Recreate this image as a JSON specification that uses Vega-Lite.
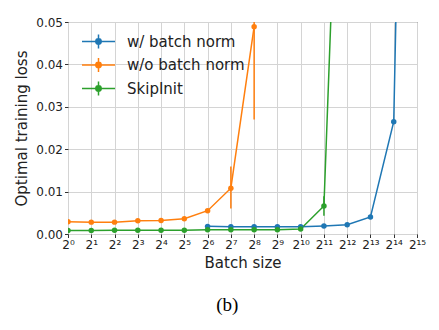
{
  "$schema": "https://vega.github.io/schema/vega-lite/v6.json",
  "autosize": "none",
  "width": 349,
  "height": 212,
  "padding": {"left": 68, "top": 22, "right": 22, "bottom": 96},
  "title": {"text": "(b)", "orient": "bottom", "anchor": "middle", "frame": "bounds", "font": "Liberation Serif", "fontSize": 19, "fontWeight": "normal", "color": "#000", "offset": 25, "dx": 7},
  "config": {
    "font": "DejaVu Sans",
    "view": {"stroke": "#333", "strokeWidth": 1},
    "axis": {"domain": false, "grid": true, "gridColor": "#d4d4d4", "gridWidth": 1, "tickColor": "#333", "tickSize": 3.5, "labelColor": "#222", "labelFontSize": 12, "titleFontSize": 15, "titleFontWeight": "normal", "titleColor": "#222", "labelPadding": 2}
  },
  "data": {"values": [
    {"series": "w/ batch norm", "bs": 64, "loss": 0.0018},
    {"series": "w/ batch norm", "bs": 128, "loss": 0.0017},
    {"series": "w/ batch norm", "bs": 256, "loss": 0.0017},
    {"series": "w/ batch norm", "bs": 512, "loss": 0.0017},
    {"series": "w/ batch norm", "bs": 1024, "loss": 0.0017},
    {"series": "w/ batch norm", "bs": 2048, "loss": 0.0019},
    {"series": "w/ batch norm", "bs": 4096, "loss": 0.0022},
    {"series": "w/ batch norm", "bs": 8192, "loss": 0.0040},
    {"series": "w/ batch norm", "bs": 16384, "loss": 0.0265},
    {"series": "w/ batch norm", "bs": 32768, "loss": 0.29},
    {"series": "w/o batch norm", "bs": 1, "loss": 0.0029},
    {"series": "w/o batch norm", "bs": 2, "loss": 0.0028},
    {"series": "w/o batch norm", "bs": 4, "loss": 0.0028},
    {"series": "w/o batch norm", "bs": 8, "loss": 0.0031},
    {"series": "w/o batch norm", "bs": 16, "loss": 0.0032},
    {"series": "w/o batch norm", "bs": 32, "loss": 0.0036},
    {"series": "w/o batch norm", "bs": 64, "loss": 0.0055},
    {"series": "w/o batch norm", "bs": 128, "loss": 0.0108, "lo": 0.0060, "hi": 0.0159},
    {"series": "w/o batch norm", "bs": 256, "loss": 0.0489, "lo": 0.027, "hi": 0.07},
    {"series": "SkipInit", "bs": 1, "loss": 0.0008},
    {"series": "SkipInit", "bs": 2, "loss": 0.0008},
    {"series": "SkipInit", "bs": 4, "loss": 0.0009},
    {"series": "SkipInit", "bs": 8, "loss": 0.0009},
    {"series": "SkipInit", "bs": 16, "loss": 0.0009},
    {"series": "SkipInit", "bs": 32, "loss": 0.0009},
    {"series": "SkipInit", "bs": 64, "loss": 0.0010},
    {"series": "SkipInit", "bs": 128, "loss": 0.0010},
    {"series": "SkipInit", "bs": 256, "loss": 0.0010},
    {"series": "SkipInit", "bs": 512, "loss": 0.0010},
    {"series": "SkipInit", "bs": 1024, "loss": 0.0012},
    {"series": "SkipInit", "bs": 2048, "loss": 0.0066, "lo": 0.0043, "hi": 0.0089},
    {"series": "SkipInit", "bs": 4096, "loss": 0.155}
  ]},
  "encoding": {
    "x": {"field": "bs", "type": "quantitative", "title": "Batch size",
      "scale": {"type": "log", "base": 2, "domain": [1, 32768], "nice": false},
      "axis": {"values": [1,2,4,8,16,32,64,128,256,512,1024,2048,4096,8192,16384,32768],
        "labelExpr": "'2' + (round(log(datum.value)/LN2) < 10 ? substring('⁰¹²³⁴⁵⁶⁷⁸⁹', round(log(datum.value)/LN2), round(log(datum.value)/LN2)+1) : '¹' + substring('⁰¹²³⁴⁵⁶⁷⁸⁹', round(log(datum.value)/LN2)-10, round(log(datum.value)/LN2)-9))",
        "labelFlush": false, "titlePadding": 5}},
    "color": {"field": "series", "type": "nominal", "title": null,
      "scale": {"domain": ["w/ batch norm", "w/o batch norm", "SkipInit"], "range": ["#1f77b4", "#ff7f0e", "#2ca02c"]},
      "legend": {"orient": "top-left", "offset": 11, "padding": 0, "labelFontSize": 15, "labelColor": "#222",
        "symbolType": "M-2.2,0H2.2M0,-0.93V0.93M-0.36,0A0.36,0.36,0,1,1,0.36,0A0.36,0.36,0,1,1,-0.36,0Z",
        "symbolSize": 225, "symbolOffset": 11, "labelOffset": 20, "rowPadding": 2.5, "symbolStrokeWidth": 1.5,
        "encode": {"symbols": {"update": {"stroke": {"scale": "color", "field": "value"}, "fill": {"scale": "color", "field": "value"}, "strokeWidth": {"value": 1.5}, "opacity": {"value": 1}}}}}}
  },
  "layer": [
    {"mark": {"type": "rule", "clip": true, "strokeWidth": 1.5},
     "transform": [{"filter": "isValid(datum.lo)"}],
     "encoding": {
       "y": {"field": "lo", "type": "quantitative"},
       "y2": {"field": "hi"}
     }},
    {"mark": {"type": "line", "clip": true, "strokeWidth": 1.5},
     "encoding": {
       "y": {"field": "loss", "type": "quantitative", "title": "Optimal training loss",
         "scale": {"domain": [0, 0.05], "nice": false},
         "axis": {"values": [0, 0.01, 0.02, 0.03, 0.04, 0.05], "format": ".2f", "titlePadding": 6}}
     }},
    {"mark": {"type": "point", "filled": true, "clip": true, "size": 30, "opacity": 1},
     "encoding": {
       "y": {"field": "loss", "type": "quantitative"}
     }}
  ]
}
